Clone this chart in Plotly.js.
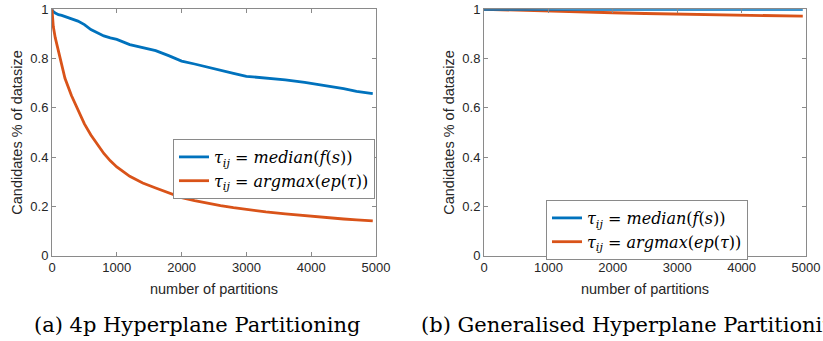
<!DOCTYPE html>
<html>
<head>
<meta charset="utf-8">
<script src="https://cdn.plot.ly/plotly-3.0.1.min.js"></script>
<style>html,body{margin:0;padding:0;background:#fff;}#chart{width:823px;height:341px;}</style>
</head>
<body>
<div id="chart"></div>
<script>
// Panel (a): 4p Hyperplane Partitioning
const partitionsA = [0, 20, 50, 100, 150, 200, 300, 400, 500, 600, 700, 800, 900, 1000, 1200, 1400, 1600, 1800, 2000, 2200, 2400, 2600, 2800, 3000, 3300, 3600, 3900, 4200, 4500, 4700, 4950];
const medianA = [1.0, 0.99, 0.985, 0.978, 0.975, 0.97, 0.96, 0.952, 0.938, 0.918, 0.905, 0.892, 0.884, 0.878, 0.857, 0.845, 0.832, 0.812, 0.79, 0.778, 0.765, 0.75, 0.74, 0.728, 0.722, 0.714, 0.703, 0.692, 0.678, 0.667, 0.658];
const argmaxA = [1.0, 0.93, 0.885, 0.83, 0.785, 0.72, 0.65, 0.59, 0.535, 0.49, 0.45, 0.415, 0.385, 0.36, 0.322, 0.295, 0.275, 0.255, 0.236, 0.224, 0.213, 0.203, 0.195, 0.187, 0.178, 0.170, 0.162, 0.155, 0.149, 0.145, 0.141];

// Panel (b): Generalised Hyperplane Partitioning
const partitionsB = [0, 500, 1000, 1500, 2000, 2500, 3000, 3500, 4000, 4500, 4950];
const medianB = [1.0, 1.0, 1.0, 1.0, 1.0, 1.0, 1.0, 1.0, 1.0, 1.0, 1.0];
const argmaxB = [1.0, 0.996, 0.992, 0.989, 0.986, 0.983, 0.981, 0.978, 0.976, 0.974, 0.972];

const xTicks = [0, 1000, 2000, 3000, 4000, 5000];
const yTicks = [0, 0.2, 0.4, 0.6, 0.8, 1];
const yTickText = ['0', '0.2', '0.4', '0.6', '0.8', '1'];
const seriesNames = [
  '<i>τ<sub>ij</sub></i> = <i>median</i>(<i>f</i>(<i>s</i>))',
  '<i>τ<sub>ij</sub></i> = <i>argmax</i>(<i>ep</i>(<i>τ</i>))'
];
const captions = ['(a) 4p Hyperplane Partitioning', '(b) Generalised Hyperplane Partitioning'];

const BLUE = '#0072BD', ORANGE = '#D95319';
const AX = '#8a8a8a', TXT = '#262626';
const sans = 'Liberation Sans, Arial, sans-serif';
const serif = 'DejaVu Serif, serif';

const traces = [
  {x: partitionsA, y: medianA, name: seriesNames[0], type: 'scatter', mode: 'lines', line: {color: BLUE, width: 2.8}, xaxis: 'x', yaxis: 'y', legend: 'legend'},
  {x: partitionsA, y: argmaxA, name: seriesNames[1], type: 'scatter', mode: 'lines', line: {color: ORANGE, width: 2.8}, xaxis: 'x', yaxis: 'y', legend: 'legend'},
  {x: partitionsB, y: argmaxB, name: seriesNames[1], type: 'scatter', mode: 'lines', line: {color: ORANGE, width: 2.8}, xaxis: 'x2', yaxis: 'y2', legend: 'legend2', legendrank: 2},
  {x: partitionsB, y: medianB, name: seriesNames[0], type: 'scatter', mode: 'lines', line: {color: BLUE, width: 2.8}, xaxis: 'x2', yaxis: 'y2', legend: 'legend2', legendrank: 1}
];

function xAxis(domain, anchor) {
  return {
    domain: domain, anchor: anchor, range: [0, 5000], tickvals: xTicks,
    showline: true, mirror: 'ticks', linecolor: AX, linewidth: 1,
    ticks: 'inside', ticklen: 4, tickcolor: AX, showgrid: false, zeroline: false,
    tickfont: {family: sans, size: 13, color: TXT},
    title: {text: 'number of partitions', font: {family: sans, size: 14.5, color: TXT}, standoff: 9}
  };
}
function yAxis(domain, anchor) {
  return {
    domain: domain, anchor: anchor, range: [0, 1], tickvals: yTicks, ticktext: yTickText,
    showline: true, mirror: 'ticks', linecolor: AX, linewidth: 1,
    ticks: 'inside', ticklen: 4, tickcolor: AX, showgrid: false, zeroline: false,
    tickfont: {family: sans, size: 13, color: TXT},
    title: {text: 'Candidates % of datasize', font: {family: sans, size: 14.5, color: TXT}, standoff: 4}
  };
}
function legendBox(x, y) {
  return {
    x: x, y: y, xanchor: 'left', yanchor: 'top', xref: 'paper', yref: 'paper',
    bgcolor: '#ffffff', bordercolor: '#8a8a8a', borderwidth: 1,
    font: {family: serif, size: 16, color: '#000'},
    itemwidth: 30, tracegroupgap: 0, traceorder: 'normal'
  };
}

const layout = {
  width: 823, height: 341,
  margin: {l: 0, r: 0, t: 0, b: 0},
  paper_bgcolor: '#ffffff', plot_bgcolor: '#ffffff',
  showlegend: true,
  xaxis: xAxis([52/823, 376/823], 'y'),
  yaxis: yAxis([85.3/341, 331.7/341], 'x'),
  xaxis2: xAxis([484/823, 806/823], 'y2'),
  yaxis2: yAxis([85.3/341, 331.7/341], 'x2'),
  legend: legendBox(173/823, (341-139)/341),
  legend2: legendBox(546/823, (341-200)/341),
  annotations: [
    {text: captions[0], xref: 'paper', yref: 'paper', x: 197/823, y: (341-325)/341, xanchor: 'center', yanchor: 'middle', showarrow: false, font: {family: serif, size: 21, color: '#000'}},
    {text: captions[1], xref: 'paper', yref: 'paper', x: 419/823, y: (341-325)/341, xanchor: 'left', yanchor: 'middle', showarrow: false, font: {family: serif, size: 21, color: '#000'}}
  ]
};

Plotly.newPlot('chart', traces, layout, {staticPlot: true, displayModeBar: false});
</script>
</body>
</html>
